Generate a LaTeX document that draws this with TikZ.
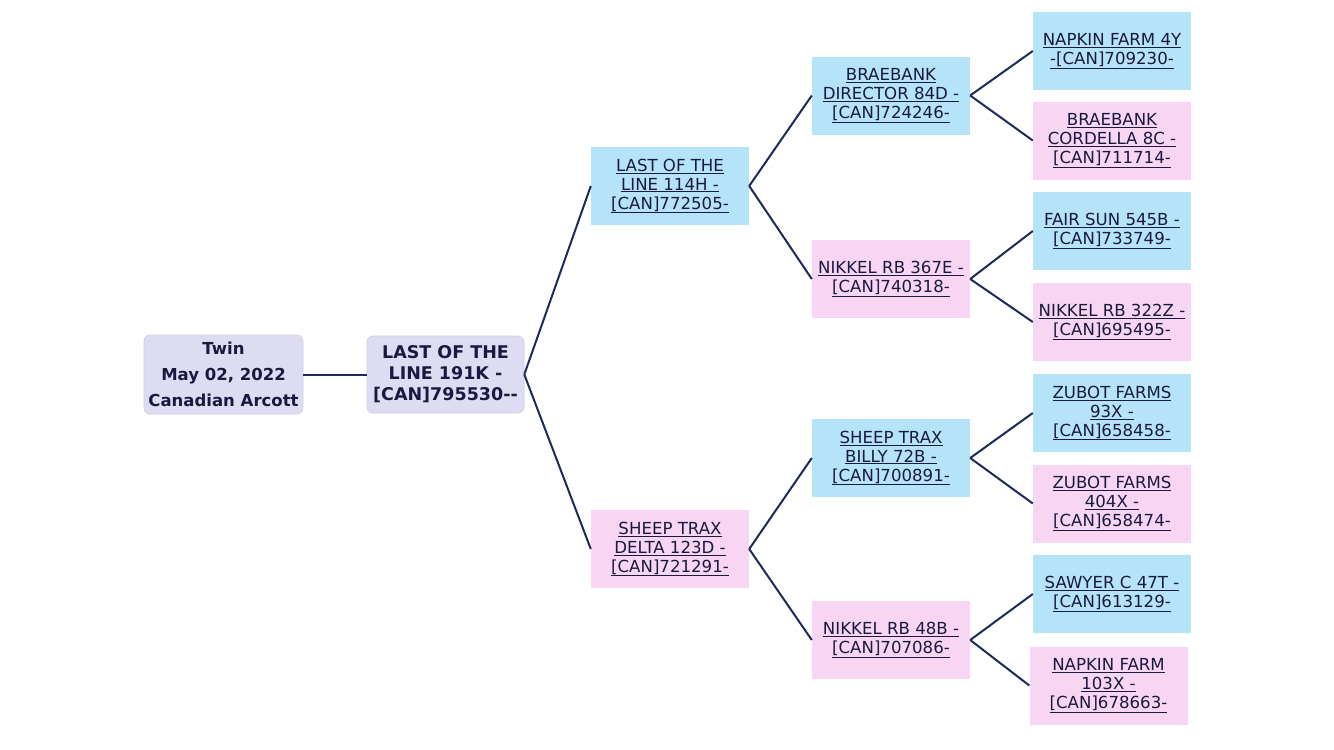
\documentclass[tikz,border=0pt]{standalone}
\usepackage{fontspec}
\setmainfont{DejaVu Sans}
\definecolor{txt}{HTML}{1A1A40}
\definecolor{edge}{HTML}{1C2A5C}
\definecolor{lav}{HTML}{DDDCF2}
\definecolor{sky}{HTML}{B5E3F8}
\definecolor{rose}{HTML}{F8D6F3}
\newcommand{\ul}[1]{\underline{#1}}
\tikzset{
  gbox/.style={minimum width=158pt, minimum height=78pt, inner sep=0pt, align=center,
    text=txt, font=\fontsize{16.6pt}{19pt}\selectfont},
  male/.style={gbox, fill=sky},
  female/.style={gbox, fill=rose},
  rootbox/.style={minimum width=158pt, minimum height=78pt, inner sep=0pt, align=center,
    text=txt, fill=lav, rounded corners=6pt, draw=lav!85!gray, line width=0.6pt},
  link/.style={draw=edge, line width=2pt}
}
\begin{document}
\begin{tikzpicture}[x=1pt,y=-1pt]
\useasboundingbox (0,0) rectangle (1334,750);
\fill[white] (0,0) rectangle (1334,750);
\node[rootbox, minimum width=159pt, minimum height=79pt, font=\bfseries\fontsize{16.5pt}{26pt}\selectfont] (root) at (223.5,374.5) {Twin\\May 02, 2022\\Canadian Arcott};
\node[rootbox, minimum width=157pt, minimum height=77pt, font=\bfseries\fontsize{17.5pt}{21pt}\selectfont] (s) at (445.5,374.5) {LAST OF THE\\LINE 191K -\\{}[CAN]795530-{}-};
\node[male] (ss) at (670,186) {\ul{LAST OF THE}\\\ul{LINE 114H -}\\\ul{[CAN]772505-}};
\node[female] (sd) at (670,549) {\ul{SHEEP TRAX}\\\ul{DELTA 123D -}\\\ul{[CAN]721291-}};
\node[male] (sss) at (891,95.5) {\ul{BRAEBANK}\\\ul{DIRECTOR 84D -}\\\ul{[CAN]724246-}};
\node[female] (ssd) at (891,279) {\ul{NIKKEL RB 367E -}\\\ul{[CAN]740318-}};
\node[male] (sds) at (891,458) {\ul{SHEEP TRAX}\\\ul{BILLY 72B -}\\\ul{[CAN]700891-}};
\node[female] (sdd) at (891,640) {\ul{NIKKEL RB 48B -}\\\ul{[CAN]707086-}};
\node[male] (ssss) at (1112,51) {\ul{NAPKIN FARM 4Y}\\\ul{-[CAN]709230-}};
\node[female] (sssd) at (1112,140.5) {\ul{BRAEBANK}\\\ul{CORDELLA 8C -}\\\ul{[CAN]711714-}};
\node[male] (ssds) at (1112,231) {\ul{FAIR SUN 545B -}\\\ul{[CAN]733749-}};
\node[female] (ssdd) at (1112,322) {\ul{NIKKEL RB 322Z -}\\\ul{[CAN]695495-}};
\node[male] (sdss) at (1112,413) {\ul{ZUBOT FARMS}\\\ul{93X -}\\\ul{[CAN]658458-}};
\node[female] (sdsd) at (1112,503.5) {\ul{ZUBOT FARMS}\\\ul{404X -}\\\ul{[CAN]658474-}};
\node[male] (sdds) at (1112,594) {\ul{SAWYER C 47T -}\\\ul{[CAN]613129-}};
\node[female] (sddd) at (1108.5,685.5) {\ul{NAPKIN FARM}\\\ul{103X -}\\\ul{[CAN]678663-}};
\draw[link] (root.east) -- (s.west);
\draw[link] (s.east) -- (ss.west);
\draw[link] (s.east) -- (sd.west);
\draw[link] (ss.east) -- (sss.west);
\draw[link] (ss.east) -- (ssd.west);
\draw[link] (sd.east) -- (sds.west);
\draw[link] (sd.east) -- (sdd.west);
\draw[link] (sss.east) -- (ssss.west);
\draw[link] (sss.east) -- (sssd.west);
\draw[link] (ssd.east) -- (ssds.west);
\draw[link] (ssd.east) -- (ssdd.west);
\draw[link] (sds.east) -- (sdss.west);
\draw[link] (sds.east) -- (sdsd.west);
\draw[link] (sdd.east) -- (sdds.west);
\draw[link] (sdd.east) -- (sddd.west);
\end{tikzpicture}
\end{document}
